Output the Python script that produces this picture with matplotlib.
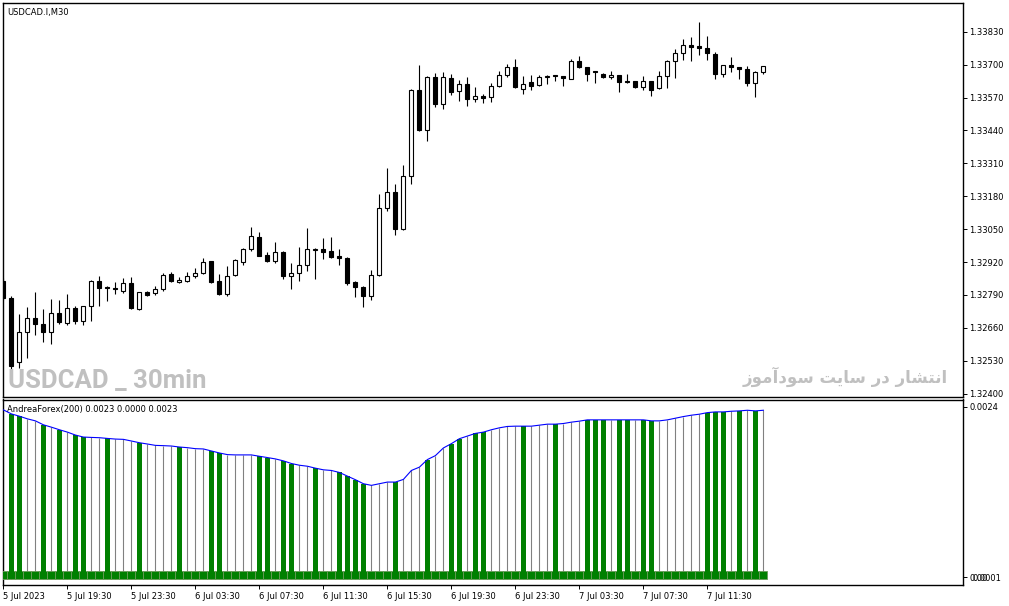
import numpy as np
import matplotlib

matplotlib.use("Agg")
import matplotlib.pyplot as plt
from matplotlib.ticker import FixedLocator, FixedFormatter

# USDCAD.I M30 candles, 5 Jul 15:30 .. 7 Jul 15:00
opens = [1.32845, 1.32778, 1.32525, 1.32645, 1.32699, 1.32674, 1.32645, 1.32718, 1.32678, 1.32737,
         1.32688, 1.32745, 1.32845, 1.32820, 1.32816, 1.32807, 1.32836, 1.32733, 1.32800, 1.32797,
         1.32812, 1.32873, 1.32840, 1.32846, 1.32864, 1.32876, 1.32923, 1.32845, 1.32795, 1.32868,
         1.32921, 1.32970, 1.33018, 1.32948, 1.32924, 1.32959, 1.32866, 1.32876, 1.32907, 1.32969,
         1.32970, 1.32964, 1.32944, 1.32937, 1.32842, 1.32821, 1.32787, 1.32868, 1.33132, 1.33195,
         1.33049, 1.33259, 1.33600, 1.33441, 1.33650, 1.33546, 1.33646, 1.33595, 1.33622, 1.33565,
         1.33575, 1.33571, 1.33614, 1.33660, 1.33689, 1.33603, 1.33630, 1.33618, 1.33650, 1.33658,
         1.33654, 1.33644, 1.33713, 1.33689, 1.33674, 1.33662, 1.33650, 1.33658, 1.33634, 1.33634,
         1.33610, 1.33634, 1.33606, 1.33655, 1.33713, 1.33746, 1.33776, 1.33774, 1.33766, 1.33741,
         1.33662, 1.33697, 1.33689, 1.33682, 1.33626, 1.33670]
highs = [1.32857, 1.32786, 1.32714, 1.32742, 1.32802, 1.32734, 1.32774, 1.32770, 1.32793, 1.32746,
         1.32748, 1.32849, 1.32865, 1.32825, 1.32841, 1.32857, 1.32860, 1.32803, 1.32806, 1.32825,
         1.32877, 1.32882, 1.32861, 1.32882, 1.32898, 1.32936, 1.32926, 1.32873, 1.32904, 1.32930,
         1.32974, 1.33060, 1.33040, 1.32959, 1.32998, 1.32962, 1.32915, 1.32978, 1.33053, 1.32977,
         1.33014, 1.33019, 1.32970, 1.32940, 1.32846, 1.32826, 1.32888, 1.33189, 1.33290, 1.33227,
         1.33303, 1.33604, 1.33699, 1.33654, 1.33666, 1.33671, 1.33663, 1.33639, 1.33650, 1.33610,
         1.33585, 1.33626, 1.33675, 1.33702, 1.33722, 1.33654, 1.33658, 1.33658, 1.33658, 1.33659,
         1.33655, 1.33722, 1.33734, 1.33690, 1.33675, 1.33666, 1.33674, 1.33659, 1.33662, 1.33635,
         1.33654, 1.33635, 1.33674, 1.33717, 1.33762, 1.33801, 1.33809, 1.33868, 1.33813, 1.33749,
         1.33698, 1.33730, 1.33690, 1.33693, 1.33674, 1.33694]
lows = [1.32770, 1.32493, 1.32501, 1.32542, 1.32633, 1.32605, 1.32596, 1.32674, 1.32671, 1.32674,
        1.32672, 1.32688, 1.32746, 1.32767, 1.32795, 1.32799, 1.32734, 1.32732, 1.32787, 1.32789,
        1.32807, 1.32841, 1.32839, 1.32840, 1.32856, 1.32873, 1.32838, 1.32791, 1.32787, 1.32865,
        1.32910, 1.32965, 1.32942, 1.32919, 1.32917, 1.32854, 1.32812, 1.32845, 1.32885, 1.32854,
        1.32932, 1.32936, 1.32907, 1.32830, 1.32783, 1.32743, 1.32771, 1.32865, 1.33123, 1.33026,
        1.33047, 1.33230, 1.33439, 1.33399, 1.33534, 1.33524, 1.33581, 1.33557, 1.33538, 1.33551,
        1.33547, 1.33551, 1.33611, 1.33650, 1.33607, 1.33585, 1.33601, 1.33616, 1.33622, 1.33634,
        1.33614, 1.33643, 1.33685, 1.33634, 1.33626, 1.33646, 1.33643, 1.33591, 1.33629, 1.33609,
        1.33599, 1.33577, 1.33603, 1.33606, 1.33648, 1.33717, 1.33713, 1.33737, 1.33717, 1.33644,
        1.33650, 1.33670, 1.33642, 1.33614, 1.33573, 1.33662]
closes = [1.32778, 1.32509, 1.32642, 1.32699, 1.32674, 1.32645, 1.32718, 1.32682, 1.32737, 1.32688,
          1.32745, 1.32845, 1.32816, 1.32816, 1.32812, 1.32836, 1.32737, 1.32800, 1.32790, 1.32812,
          1.32868, 1.32845, 1.32849, 1.32864, 1.32877, 1.32920, 1.32842, 1.32795, 1.32866, 1.32927,
          1.32972, 1.33023, 1.32945, 1.32925, 1.32959, 1.32866, 1.32877, 1.32907, 1.32970, 1.32972,
          1.32961, 1.32941, 1.32935, 1.32838, 1.32820, 1.32787, 1.32868, 1.33132, 1.33195, 1.33049,
          1.33259, 1.33600, 1.33443, 1.33650, 1.33546, 1.33650, 1.33593, 1.33622, 1.33565, 1.33575,
          1.33569, 1.33614, 1.33658, 1.33689, 1.33610, 1.33622, 1.33614, 1.33650, 1.33654, 1.33654,
          1.33646, 1.33714, 1.33689, 1.33662, 1.33670, 1.33650, 1.33658, 1.33630, 1.33630, 1.33610,
          1.33634, 1.33599, 1.33654, 1.33713, 1.33746, 1.33776, 1.33770, 1.33765, 1.33745, 1.33662,
          1.33697, 1.33689, 1.33683, 1.33626, 1.33670, 1.33693]

# AndreaForex(200) indicator
andrea = [0.002355, 0.002299, 0.002267, 0.002230, 0.002202, 0.002147, 0.002114, 0.002078, 0.002045, 0.002004,
          0.001976, 0.001971, 0.001967, 0.001957, 0.001948, 0.001944, 0.001921, 0.001897, 0.001879, 0.001860,
          0.001856, 0.001851, 0.001837, 0.001828, 0.001814, 0.001810, 0.001782, 0.001754, 0.001731, 0.001727,
          0.001727, 0.001727, 0.001708, 0.001690, 0.001671, 0.001644, 0.001607, 0.001583, 0.001569, 0.001542,
          0.001519, 0.001510, 0.001482, 0.001431, 0.001381, 0.001325, 0.001302, 0.001325, 0.001348, 0.001348,
          0.001385, 0.001510, 0.001556, 0.001662, 0.001717, 0.001824, 0.001884, 0.001953, 0.001990, 0.002027,
          0.002045, 0.002078, 0.002105, 0.002124, 0.002128, 0.002128, 0.002128, 0.002142, 0.002156, 0.002156,
          0.002165, 0.002184, 0.002198, 0.002216, 0.002216, 0.002216, 0.002216, 0.002216, 0.002216, 0.002216,
          0.002216, 0.002202, 0.002202, 0.002216, 0.002239, 0.002262, 0.002281, 0.002295, 0.002317, 0.002327,
          0.002327, 0.002336, 0.002341, 0.002350, 0.002341, 0.002350]
green_bars = [1, 2, 5, 7, 9, 10, 13, 17, 22, 26, 27, 32, 33, 35, 36, 39, 42, 43, 44, 45, 49,
              53, 56, 57, 59, 60, 65, 69, 73, 74, 75, 77, 78, 80, 81, 88, 89, 90, 92, 94]
band_value = 0.00011

time_ticks = [0, 8, 16, 24, 32, 40, 48, 56, 64, 72, 80, 88]
time_labels = ["5 Jul 2023", "5 Jul 19:30", "5 Jul 23:30", "6 Jul 03:30", "6 Jul 07:30",
               "6 Jul 11:30", "6 Jul 15:30", "6 Jul 19:30", "6 Jul 23:30", "7 Jul 03:30",
               "7 Jul 07:30", "7 Jul 11:30"]
price_ticks = [1.32400, 1.32530, 1.32660, 1.32790, 1.32920, 1.33050,
               1.33180, 1.33310, 1.33440, 1.33570, 1.33700, 1.33830]

plt.rcParams["font.family"] = ["DejaVu Sans"]
plt.rcParams["font.size"] = 6

W, H = 1009, 606
fig = plt.figure(figsize=(W / 100, H / 100), dpi=100)
ax = fig.add_axes([3 / W, (H - 397) / H, 960 / W, 394 / H])
ax2 = fig.add_axes([3 / W, (H - 585) / H, 960 / W, 185.5 / H])

o = np.array(opens)
c = np.array(closes)
x = np.arange(len(o))
up = c >= o
body_bottom = np.minimum(o, c)
body_height = np.maximum(np.abs(c - o), 0.00001)

ax.vlines(x, lows, highs, color="black", linewidth=0.8, zorder=2)
ax.bar(x[up], body_height[up], bottom=body_bottom[up], width=0.5,
       color="white", edgecolor="black", linewidth=0.8, zorder=3)
ax.bar(x[~up], body_height[~up], bottom=body_bottom[~up], width=0.5,
       color="black", edgecolor="black", linewidth=0.8, zorder=3)

ax.set_xlim(-0.05, 119.95)
ax.set_ylim(1.323867, 1.339434)
ax.set_xticks([])
ax.yaxis.tick_right()
ax.set_yticks(price_ticks)
ax.set_yticklabels([f"{p:.5f}" for p in price_ticks])
ax.tick_params(axis="y", length=3, width=0.7, pad=1.5, colors="black")

ax.text(4 / 960, 0.9695, "USDCAD.I,M30", transform=ax.transAxes,
        ha="left", va="baseline", fontsize=6, color="black")
ax.text(5 / 960, 0.022, "USDCAD _ 30min", transform=ax.transAxes,
        ha="left", va="baseline", fontsize=18.5, fontweight="bold", color="#c0c0c0",
        family=["Roboto", "DejaVu Sans"])
# "انتشار در سایت سودآموز" written with Arabic presentation forms in display order
ax.text(945 / 960, 0.0355, "ﺯﻮﻣﺁﺩﻮﺳ ﺖﻳﺎﺳ ﺭﺩ ﺭﺎﺸﺘﻧﺍ", transform=ax.transAxes,
        ha="right", va="baseline", fontsize=12, fontweight="bold", color="#c0c0c0",
        family=["DejaVu Sans"])

# indicator pane
a = np.array(andrea)
ax2.vlines(x, 0, a, color="#808080", linewidth=0.8, zorder=2)
ax2.bar(x, np.full(len(x), band_value), width=1.0, color="#008000",
        edgecolor="#6a9a5a", linewidth=0.6, zorder=3)
ax2.bar(green_bars, a[green_bars], width=0.62, color="#008000", linewidth=0, zorder=4)
ax2.plot(x, a, color="#0000ff", linewidth=0.8, zorder=5)

ax2.set_xlim(-0.05, 119.95)
ax2.set_ylim(-0.000088, 0.0025)
ax2.set_xticks(time_ticks)
ax2.set_xticklabels(time_labels, ha="left")
ax2.tick_params(axis="x", length=3, width=0.7, pad=2, colors="black")
ax2.yaxis.tick_right()
ax2.set_yticks([0.00002, 0.0024])
ax2.set_yticklabels(["0.00", "0.0024"])
ax2.yaxis.set_minor_locator(FixedLocator([0.00001]))
ax2.yaxis.set_minor_formatter(FixedFormatter(["0.0001"]))
ax2.tick_params(axis="y", which="major", length=3, width=0.7, pad=1.5)
ax2.tick_params(axis="y", which="minor", length=0, pad=7)
ax2.text(4 / 960, 0.9326, "AndreaForex(200) 0.0023 0.0000 0.0023", transform=ax2.transAxes,
         ha="left", va="baseline", fontsize=6, color="black")

for axis in (ax, ax2):
    for sp in axis.spines.values():
        sp.set_linewidth(1.0)
        sp.set_color("black")

fig.savefig("out.png", dpi=100, facecolor="white")
